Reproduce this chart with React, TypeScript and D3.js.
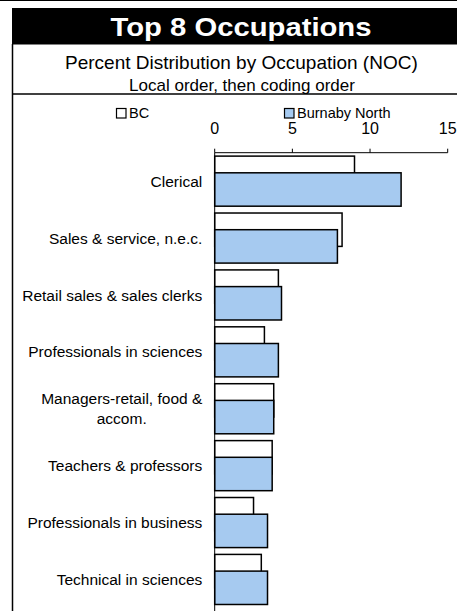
import { useRef, useEffect } from "react";
import * as d3 from "d3";

const categories: string[][] = [
  ["Clerical"],
  ["Sales & service, n.e.c."],
  ["Retail sales & sales clerks"],
  ["Professionals in sciences"],
  ["Managers-retail, food &", "accom."],
  ["Teachers & professors"],
  ["Professionals in business"],
  ["Technical in sciences"],
];
const bcValues = [9.0, 8.2, 4.1, 3.2, 3.8, 3.7, 2.5, 3.0];
const burnabyValues = [12.0, 7.9, 4.3, 4.1, 3.8, 3.7, 3.4, 3.4];
const xTicks = [0, 5, 10, 15];
const seriesNames = ["BC", "Burnaby North"];

const W = 457;
const H = 611;
const BLUE = "#A6CAF0";
const FONT = "'Liberation Sans', Arial, sans-serif";

export default function App() {
  const svgRef = useRef<SVGSVGElement>(null);

  useEffect(() => {
    document.body.style.margin = "0";
    if (!svgRef.current) return;
    const svg = d3.select(svgRef.current);
    svg.selectAll("*").remove();

    // frame & headers
    svg.append("rect").attr("x", 0).attr("y", 0).attr("width", W).attr("height", 1).attr("fill", "#000");
    svg.append("rect").attr("x", 12).attr("y", 8).attr("width", W - 12).attr("height", 36.5).attr("fill", "#000");
    svg.append("line").attr("x1", 12.5).attr("x2", 12.5).attr("y1", 44).attr("y2", H).attr("stroke", "#000").attr("stroke-width", 1.5);
    svg.append("line").attr("x1", 12).attr("x2", W).attr("y1", 94).attr("y2", 94).attr("stroke", "#000").attr("stroke-width", 1.5);

    svg.append("text")
      .attr("x", 241).attr("y", 36)
      .attr("text-anchor", "middle")
      .attr("font-family", FONT).attr("font-weight", "bold").attr("font-size", 25.5)
      .attr("fill", "#fff")
      .attr("textLength", 261).attr("lengthAdjust", "spacingAndGlyphs")
      .text("Top 8 Occupations");

    svg.append("text")
      .attr("x", 241.4).attr("y", 69.3)
      .attr("text-anchor", "middle")
      .attr("font-family", FONT).attr("font-size", 19)
      .text("Percent Distribution by Occupation (NOC)");

    svg.append("text")
      .attr("x", 242).attr("y", 91)
      .attr("text-anchor", "middle")
      .attr("font-family", FONT).attr("font-size", 17)
      .text("Local order, then coding order");

    // scales
    const x = d3.scaleLinear().domain([0, 15]).range([214.7, 447.7]);
    const y = d3
      .scaleBand<number>()
      .domain(d3.range(categories.length))
      .range([152.7, 607.9])
      .paddingInner(0.12)
      .paddingOuter(0.06);
    const barH = y.bandwidth() / 1.5;

    // legend
    const legend = [
      { x: 116, fill: "#fff", name: seriesNames[0] },
      { x: 284, fill: BLUE, name: seriesNames[1] },
    ];
    legend.forEach((d) => {
      svg.append("rect").attr("x", d.x + 0.5).attr("y", 108.5).attr("width", 9.5).attr("height", 9.5)
        .attr("fill", d.fill).attr("stroke", "#000").attr("stroke-width", 1.2);
      svg.append("text").attr("x", d.x + 13).attr("y", 118)
        .attr("font-family", FONT).attr("font-size", 14.5).text(d.name);
    });

    // x axis (top)
    const axisY = 152.7;
    svg.append("line").attr("x1", x(0)).attr("x2", x(15)).attr("y1", axisY).attr("y2", axisY)
      .attr("stroke", "#000").attr("stroke-width", 1);
    xTicks.forEach((t) => {
      svg.append("line").attr("x1", x(t)).attr("x2", x(t)).attr("y1", axisY - 4).attr("y2", axisY)
        .attr("stroke", "#000").attr("stroke-width", 1);
      svg.append("text").attr("x", x(t)).attr("y", 134).attr("text-anchor", "middle")
        .attr("font-family", FONT).attr("font-size", 16).text(t);
    });

    // bars
    categories.forEach((_, i) => {
      const y0 = y(i)!;
      svg.append("rect")
        .attr("x", x(0)).attr("y", y0)
        .attr("width", x(bcValues[i]) - x(0)).attr("height", barH)
        .attr("fill", "#fff").attr("stroke", "#000").attr("stroke-width", 1.5);
      svg.append("rect")
        .attr("x", x(0)).attr("y", y0 + barH / 2)
        .attr("width", x(burnabyValues[i]) - x(0)).attr("height", barH)
        .attr("fill", BLUE).attr("stroke", "#000").attr("stroke-width", 1.5);
    });

    // y axis
    svg.append("line").attr("x1", x(0)).attr("x2", x(0)).attr("y1", axisY).attr("y2", H)
      .attr("stroke", "#000").attr("stroke-width", 1);

    // category labels
    const labelRight = 202.3;
    const lineH = 20;
    categories.forEach((lines, i) => {
      const cy = y(i)! - (y.step() * y.paddingInner()) / 2 + y.step() / 2;
      const g = svg.append("g");
      const texts = lines.map((line, j) =>
        g.append("text")
          .attr("y", cy + (j - (lines.length - 1) / 2) * lineH)
          .attr("dy", "0.36em")
          .attr("font-family", FONT).attr("font-size", 15.5)
          .text(line)
      );
      if (lines.length === 1) {
        texts[0].attr("x", labelRight).attr("text-anchor", "end");
      } else {
        const maxW = d3.max(texts, (t) => (t.node() as SVGTextElement).getComputedTextLength()) ?? 0;
        texts.forEach((t) => t.attr("x", labelRight - maxW / 2).attr("text-anchor", "middle"));
      }
    });
  }, []);

  return <svg ref={svgRef} width={W} height={H} style={{ display: "block" }} />;
}
